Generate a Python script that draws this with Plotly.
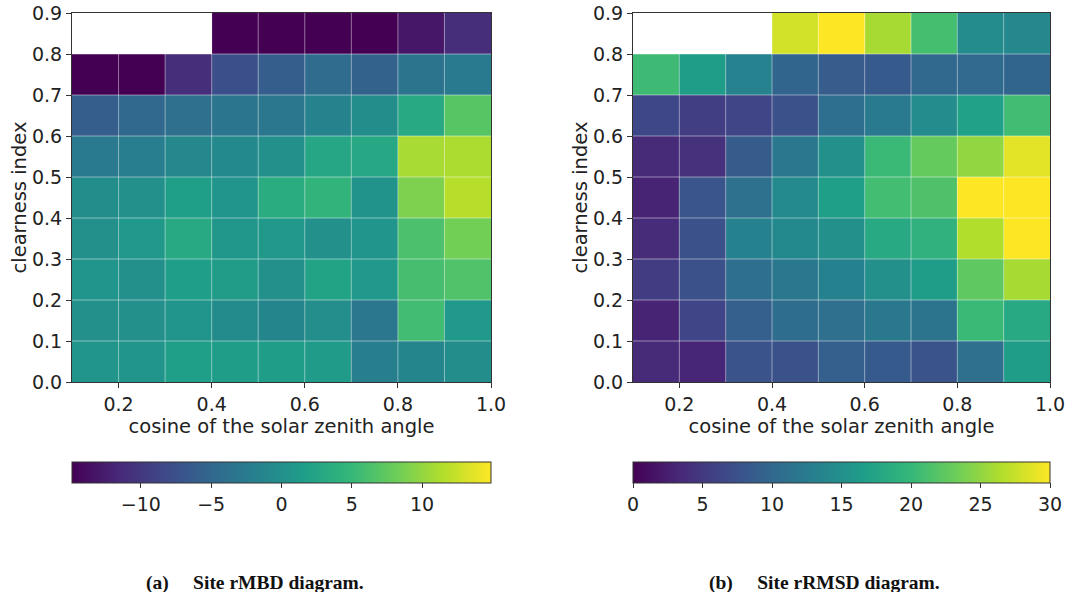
import plotly.graph_objects as go

# bin centres
x_centers = [0.15, 0.25, 0.35, 0.45, 0.55, 0.65, 0.75, 0.85, 0.95]
y_centers = [0.05, 0.15, 0.25, 0.35, 0.45, 0.55, 0.65, 0.75, 0.85]
x_ticks = [0.2, 0.4, 0.6, 0.8, 1.0]
x_ticklabels = ["0.2", "0.4", "0.6", "0.8", "1.0"]
y_ticks = [0.0, 0.1, 0.2, 0.3, 0.4, 0.5, 0.6, 0.7, 0.8, 0.9]
y_ticklabels = ["0.0", "0.1", "0.2", "0.3", "0.4", "0.5", "0.6", "0.7", "0.8", "0.9"]
edges = [0.1, 0.2, 0.3, 0.4, 0.5, 0.6, 0.7, 0.8, 0.9, 1.0]
y_edges = [0.0, 0.1, 0.2, 0.3, 0.4, 0.5, 0.6, 0.7, 0.8, 0.9]

# rMBD (rows bottom -> top)
rmbd = [
    [0.6, 0.6, 1.8, 1.5, 1.5, 1.3, -2.0, -1.3, -0.3],
    [0.0, 0.0, 0.6, -0.6, -1.3, -0.2, -3.0, 5.7, 1.0],
    [0.6, 0.0, 1.6, 1.4, 0.0, 2.3, 1.0, 6.0, 6.5],
    [0.0, 1.0, 3.0, 0.7, 1.0, 0.0, 0.6, 6.3, 8.4],
    [-0.3, 0.0, 1.8, 0.5, 3.5, 4.5, 0.3, 9.0, 11.7],
    [-2.7, -2.3, -1.0, -0.8, 0.0, 2.7, 2.8, 11.0, 11.2],
    [-6.0, -5.0, -4.0, -3.3, -3.0, -1.5, -0.3, 3.0, 7.0],
    [-15.0, -15.0, -11.0, -7.5, -6.0, -4.5, -5.5, -3.5, -2.7],
    [None, None, None, -15.0, -15.0, -15.0, -15.0, -13.0, -11.0],
]

# rRMSD (rows bottom -> top)
rrmsd = [
    [3.6, 3.2, 7.8, 7.5, 9.0, 8.5, 7.8, 11.0, 16.5],
    [3.0, 6.3, 9.0, 10.7, 11.0, 12.0, 11.5, 20.3, 18.0],
    [5.5, 7.5, 10.8, 12.0, 13.2, 15.0, 16.5, 22.5, 26.0],
    [3.7, 7.5, 13.2, 14.2, 15.0, 18.0, 19.2, 26.5, 30.0],
    [3.0, 8.0, 11.2, 14.3, 16.8, 20.8, 21.5, 30.0, 30.0],
    [3.6, 4.2, 8.7, 12.0, 15.0, 20.3, 22.8, 25.0, 28.8],
    [6.6, 5.6, 6.3, 7.5, 10.8, 12.3, 14.5, 17.0, 20.7],
    [20.5, 16.5, 13.3, 9.7, 8.8, 8.5, 10.0, 10.3, 9.7],
    [None, None, None, 28.0, 30.0, 26.0, 21.0, 14.5, 14.0],
]

rmbd_ticks = [-10, -5, 0, 5, 10]
rmbd_ticklabels = ["\u221210", "\u22125", "0", "5", "10"]
rrmsd_ticks = [0, 5, 10, 15, 20, 25, 30]

FONT = "DejaVu Sans"
TICK_SIZE = 19
TITLE_SIZE = 19.5

W, H = 1068, 592


def fx(px):
    return px / W


def fy(py):
    return 1 - py / H


left_dom = [fx(72), fx(491)]
right_dom = [fx(633), fx(1050)]
y_dom = [fy(382), fy(13)]

fig = go.Figure()

cb_common = dict(
    orientation="h",
    thickness=21,
    lenmode="fraction",
    yanchor="top",
    y=fy(462),
    xanchor="left",
    xpad=0,
    ypad=0,
    outlinewidth=1,
    outlinecolor="#333",
    ticks="outside",
    ticklen=5,
    tickcolor="#333",
    ticklabeloverflow="allow",
    tickfont=dict(family=FONT, size=TICK_SIZE, color="#222"),
)

fig.add_trace(go.Heatmap(
    x=x_centers, y=y_centers, z=rmbd, colorscale="Viridis",
    zmin=-14.9, zmax=14.9, xaxis="x", yaxis="y", hoverongaps=False,
    colorbar=dict(cb_common, x=left_dom[0], len=left_dom[1] - left_dom[0],
                  tickvals=rmbd_ticks, ticktext=rmbd_ticklabels),
))
fig.add_trace(go.Heatmap(
    x=x_centers, y=y_centers, z=rrmsd, colorscale="Viridis",
    zmin=0, zmax=30, xaxis="x2", yaxis="y2", hoverongaps=False,
    colorbar=dict(cb_common, x=right_dom[0], len=right_dom[1] - right_dom[0],
                  tickvals=rrmsd_ticks),
))

axis_common = dict(
    showgrid=False, zeroline=False, showline=True, mirror=True,
    linecolor="#333", linewidth=1, ticks="outside", ticklen=5,
    tickcolor="#333", automargin=False, ticklabeloverflow="allow",
    tickfont=dict(family=FONT, size=TICK_SIZE, color="#222"),
)

fig.update_layout(
    template="none",
    width=W, height=H,
    margin=dict(l=0, r=0, t=0, b=0),
    paper_bgcolor="white", plot_bgcolor="white",
    font=dict(family=FONT, size=TICK_SIZE, color="#222"),
    xaxis=dict(axis_common, domain=left_dom, range=[0.1, 1.0],
               tickvals=x_ticks, ticktext=x_ticklabels,
               title=dict(text="cosine of the solar zenith angle", standoff=4,
                          font=dict(family=FONT, size=TITLE_SIZE)), anchor="y"),
    yaxis=dict(axis_common, domain=y_dom, range=[0.0, 0.9],
               tickvals=y_ticks, ticktext=y_ticklabels,
               title=dict(text="clearness index", standoff=0,
                          font=dict(family=FONT, size=TITLE_SIZE)), anchor="x"),
    xaxis2=dict(axis_common, domain=right_dom, range=[0.1, 1.0],
                tickvals=x_ticks, ticktext=x_ticklabels,
                title=dict(text="cosine of the solar zenith angle", standoff=4,
                           font=dict(family=FONT, size=TITLE_SIZE)), anchor="y2"),
    yaxis2=dict(axis_common, domain=y_dom, range=[0.0, 0.9],
                tickvals=y_ticks, ticktext=y_ticklabels,
                title=dict(text="clearness index", standoff=0,
                           font=dict(family=FONT, size=TITLE_SIZE)), anchor="x2"),
)

# light grid lines over the cells
shapes = []
for xr, yr in (("x", "y"), ("x2", "y2")):
    for e in edges[1:-1]:
        shapes.append(dict(type="line", xref=xr, yref=yr, x0=e, x1=e,
                           y0=y_edges[0], y1=y_edges[-1], layer="above",
                           line=dict(color="rgba(255,255,255,0.45)", width=1)))
    for e in y_edges[1:-1]:
        shapes.append(dict(type="line", xref=xr, yref=yr, y0=e, y1=e,
                           x0=edges[0], x1=edges[-1], layer="above",
                           line=dict(color="rgba(255,255,255,0.45)", width=1)))
fig.update_layout(shapes=shapes)

captions = [("(a)\u2003 Site rMBD diagram.", fx(255)),
            ("(b)\u2003 Site rRMSD diagram.", fx(824))]
for text, xc in captions:
    fig.add_annotation(text="<b>" + text + "</b>", xref="paper", yref="paper",
                       x=xc, y=fy(583), xanchor="center", yanchor="middle",
                       showarrow=False,
                       font=dict(family="Liberation Serif", size=19.5, color="#111"))

# remove the browser's default page margin so the figure fills the window exactly
fig.write_html(
    "out.html",
    config={"displayModeBar": False},
    post_script="document.body.style.margin='0';document.body.style.overflow='hidden';",
)
